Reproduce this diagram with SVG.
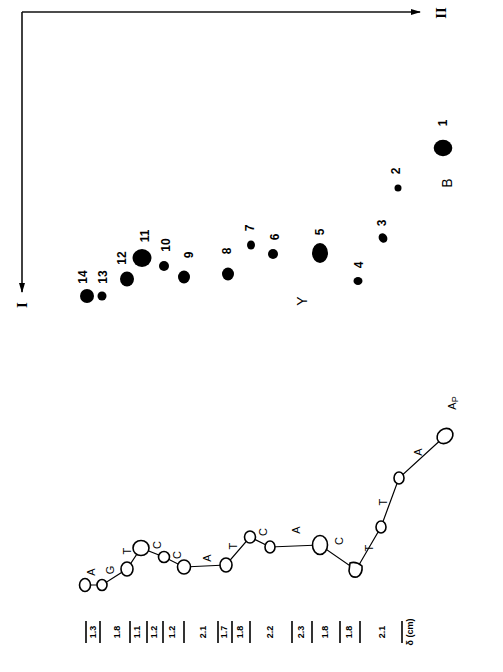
<svg xmlns="http://www.w3.org/2000/svg" width="503" height="672" viewBox="0 0 503 672">
<style>
.ax{stroke:#111;stroke-width:1.6;fill:none}
.spot{fill:#000}
.num{font-family:"Liberation Sans",Arial,sans-serif;font-weight:bold;font-size:12px;fill:#000;text-anchor:middle;dominant-baseline:central}
.lab{font-family:"Liberation Sans",Arial,sans-serif;font-size:11px;fill:#000;text-anchor:middle;dominant-baseline:central}
.big{font-family:"Liberation Sans",Arial,sans-serif;font-size:14px;fill:#000;text-anchor:middle;dominant-baseline:central}
.rom{font-family:"Liberation Serif","Times New Roman",serif;font-weight:bold;font-size:15px;fill:#000;text-anchor:middle;dominant-baseline:central}
.nd{fill:#fff;stroke:#000;stroke-width:1.6}
.ln{stroke:#000;stroke-width:1.2}
.bar{stroke:#000;stroke-width:1.6}
.val{font-family:"Liberation Sans",Arial,sans-serif;font-weight:bold;font-size:9px;fill:#000;text-anchor:middle;dominant-baseline:central}
</style>
<defs>
<marker id="ah" markerWidth="10" markerHeight="8" refX="9" refY="4" orient="auto" markerUnits="userSpaceOnUse">
<path d="M0,1 L10,4 L0,7 Z" fill="#000"/>
</marker>
</defs>

<g id="axes">
<line class="ax" x1="22" y1="12" x2="420" y2="12" marker-end="url(#ah)"/>
<line class="ax" x1="22" y1="12" x2="22" y2="292" marker-end="url(#ah)"/>
<text class="rom" transform="rotate(-90 441 13)" x="441" y="13">II</text>
<text class="rom" transform="rotate(-90 22 305)" x="22" y="305">I</text>
</g>

<g id="spots">
<g id="spot1"><ellipse class="spot" cx="443" cy="148" rx="9.3" ry="8.3"/><text class="num" transform="rotate(-90 443 123)" x="443" y="123">1</text></g>
<g id="spot2"><ellipse class="spot" cx="398" cy="188" rx="3.5" ry="3.5"/><text class="num" transform="rotate(-90 396 171)" x="396" y="171">2</text></g>
<g id="spot3"><ellipse class="spot" cx="383" cy="238" rx="4.2" ry="5" transform="rotate(-30 383 238)"/><text class="num" transform="rotate(-90 382 223)" x="382" y="223">3</text></g>
<g id="spot4"><ellipse class="spot" cx="358" cy="281" rx="4.5" ry="4"/><text class="num" transform="rotate(-90 359 265)" x="359" y="265">4</text></g>
<g id="spot5"><ellipse class="spot" cx="320" cy="253" rx="8" ry="10"/><text class="num" transform="rotate(-90 320 232)" x="320" y="232">5</text></g>
<g id="spot6"><ellipse class="spot" cx="273" cy="254" rx="5" ry="5"/><text class="num" transform="rotate(-90 275 237)" x="275" y="237">6</text></g>
<g id="spot7"><ellipse class="spot" cx="251" cy="245" rx="4" ry="4.5"/><text class="num" transform="rotate(-90 250 228)" x="250" y="228">7</text></g>
<g id="spot8"><ellipse class="spot" cx="228" cy="274" rx="6" ry="6.5"/><text class="num" transform="rotate(-90 227 251)" x="227" y="251">8</text></g>
<g id="spot9"><ellipse class="spot" cx="184" cy="277" rx="6" ry="6.5"/><text class="num" transform="rotate(-90 189 255)" x="189" y="255">9</text></g>
<g id="spot10"><ellipse class="spot" cx="164" cy="266" rx="5" ry="5"/><text class="num" transform="rotate(-90 166 245)" x="166" y="245">10</text></g>
<g id="spot11"><ellipse class="spot" cx="142" cy="258" rx="9.5" ry="9"/><text class="num" transform="rotate(-90 145 236)" x="145" y="236">11</text></g>
<g id="spot12"><ellipse class="spot" cx="127" cy="279" rx="7" ry="7.5"/><text class="num" transform="rotate(-90 122 258)" x="122" y="258">12</text></g>
<g id="spot13"><ellipse class="spot" cx="102" cy="296" rx="4.5" ry="4.5"/><text class="num" transform="rotate(-90 103 277)" x="103" y="277">13</text></g>
<g id="spot14"><ellipse class="spot" cx="87" cy="296" rx="7" ry="7"/><text class="num" transform="rotate(-90 83 277)" x="83" y="277">14</text></g>
<text class="big" transform="rotate(-90 302 301)" x="302" y="301">Y</text>
<text class="big" transform="rotate(-90 447 183)" x="447" y="183">B</text>
</g>

<g id="connectors">
<polyline class="ln" fill="none" points="85,585 102,585 127,569 141,548 164,557 184,567 226,565 250,537 270,547 320,545 356,570 381,527 399,478 445,436"/>
</g>

<g id="sequence">
<g id="n1"><ellipse class="nd" cx="85" cy="585" rx="5.5" ry="6.5"/></g>
<g id="n2"><ellipse class="nd" cx="102" cy="585" rx="5" ry="5.5"/></g>
<g id="n3"><ellipse class="nd" cx="127" cy="569" rx="6" ry="7"/></g>
<g id="n4"><ellipse class="nd" cx="141" cy="548" rx="8" ry="7.5"/></g>
<g id="n5"><ellipse class="nd" cx="164" cy="557" rx="5.5" ry="5.5"/></g>
<g id="n6"><ellipse class="nd" cx="184" cy="567" rx="6.5" ry="7"/></g>
<g id="n7"><ellipse class="nd" cx="226" cy="565" rx="6" ry="7"/></g>
<g id="n8"><ellipse class="nd" cx="250" cy="537" rx="5.5" ry="6"/></g>
<g id="n9"><ellipse class="nd" cx="270" cy="547" rx="5" ry="6"/></g>
<g id="n10"><ellipse class="nd" cx="320" cy="545" rx="7.5" ry="9.5"/></g>
<g id="n11"><path class="nd" d="M350,563 Q356,561 362,566 Q363,574 357,577 Q350,578 349,571 Z"/></g>
<g id="n12"><ellipse class="nd" cx="381" cy="527" rx="5" ry="6"/></g>
<g id="n13"><ellipse class="nd" cx="399" cy="478" rx="5" ry="6"/></g>
<g id="n14"><ellipse class="nd" cx="445" cy="436" rx="8.5" ry="7" transform="rotate(-40 445 436)"/></g>
<text class="lab" transform="rotate(-90 91 572)" x="91" y="572">A</text>
<text class="lab" transform="rotate(-90 110 570)" x="110" y="570">G</text>
<text class="lab" transform="rotate(-90 127 551)" x="127" y="551">T</text>
<text class="lab" transform="rotate(-90 157 545)" x="157" y="545">C</text>
<text class="lab" transform="rotate(-90 177 555)" x="177" y="555">C</text>
<text class="lab" transform="rotate(-90 207 558)" x="207" y="558">A</text>
<text class="lab" transform="rotate(-90 233 546)" x="233" y="546">T</text>
<text class="lab" transform="rotate(-90 263 532)" x="263" y="532">C</text>
<text class="lab" transform="rotate(-90 296 530)" x="296" y="530">A</text>
<text class="lab" transform="rotate(-90 339 541)" x="339" y="541">C</text>
<text class="lab" transform="rotate(-90 369 548)" x="369" y="548">T</text>
<text class="lab" transform="rotate(-90 383 502)" x="383" y="502">T</text>
<text class="lab" transform="rotate(-90 418 452)" x="418" y="452">A</text>
<text class="lab" transform="rotate(-90 452 403)" x="452" y="403">A<tspan font-size="9" dy="3">P</tspan></text>
</g>

<g id="scale">
<line class="bar" x1="86" y1="621" x2="86" y2="643"/>
<line class="bar" x1="100" y1="621" x2="100" y2="643"/>
<line class="bar" x1="130" y1="621" x2="130" y2="643"/>
<line class="bar" x1="147" y1="621" x2="147" y2="643"/>
<line class="bar" x1="163" y1="621" x2="163" y2="643"/>
<line class="bar" x1="184" y1="621" x2="184" y2="643"/>
<line class="bar" x1="218" y1="621" x2="218" y2="643"/>
<line class="bar" x1="232" y1="621" x2="232" y2="643"/>
<line class="bar" x1="250" y1="621" x2="250" y2="643"/>
<line class="bar" x1="292" y1="621" x2="292" y2="643"/>
<line class="bar" x1="312" y1="621" x2="312" y2="643"/>
<line class="bar" x1="340" y1="621" x2="340" y2="643"/>
<line class="bar" x1="360" y1="621" x2="360" y2="643"/>
<line class="bar" x1="402" y1="621" x2="402" y2="643"/>
<text class="val" transform="rotate(-90 93 632)" x="93" y="632">1.3</text>
<text class="val" transform="rotate(-90 117 632)" x="117" y="632">1.8</text>
<text class="val" transform="rotate(-90 137 632)" x="137" y="632">1.1</text>
<text class="val" transform="rotate(-90 154 632)" x="154" y="632">1.2</text>
<text class="val" transform="rotate(-90 172 632)" x="172" y="632">1.2</text>
<text class="val" transform="rotate(-90 203 632)" x="203" y="632">2.1</text>
<text class="val" transform="rotate(-90 224 632)" x="224" y="632">1.7</text>
<text class="val" transform="rotate(-90 240 632)" x="240" y="632">1.8</text>
<text class="val" transform="rotate(-90 270 632)" x="270" y="632">2.2</text>
<text class="val" transform="rotate(-90 301 632)" x="301" y="632">2.3</text>
<text class="val" transform="rotate(-90 325 632)" x="325" y="632">1.8</text>
<text class="val" transform="rotate(-90 349 632)" x="349" y="632">1.8</text>
<text class="val" transform="rotate(-90 382 632)" x="382" y="632">2.1</text>
<text class="val" transform="rotate(-90 410 632)" x="410" y="632">δ (cm)</text>
</g>
</svg>
